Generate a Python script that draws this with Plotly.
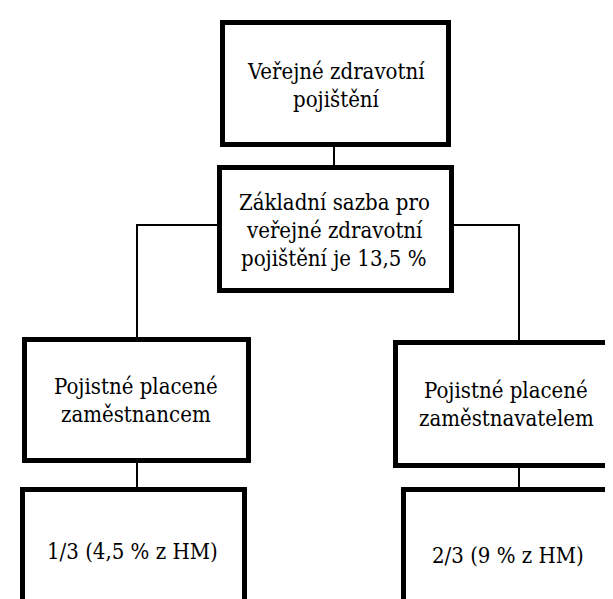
import plotly.graph_objects as go

# ---- content ----
labels = [
    "Veřejné zdravotní\npojištění",
    "Základní sazba pro\nveřejné zdravotní\npojištění je 13,5 %",
    "Pojistné placené\nzaměstnancem",
    "Pojistné placené\nzaměstnavatelem",
    "1/3 (4,5 % z HM)",
    "2/3 (9 % z HM)",
]
parents = [None, 0, 1, 1, 2, 3]

# ---- layout (pixels, outer edges of box borders) ----
W, H = 613, 599
box_x0 = [212, 209, 14, 385, 12, 393]
box_x1 = [443, 446, 243, 613, 239, 640]
box_y0 = [12, 157, 329, 332, 479, 479]
box_y1 = [139, 285, 455, 460, 640, 640]
text_x = [328, 326, 128, 498, 124, 500]
text_y = [77, 222, 392, 396, 543, 547]
link_x = [None, 326, 129, 511, 129, 511]   # x of vertical connector into each child
branch_y = 217                             # y of horizontal branch from box 2
line_step = 28
font_size = 22
border_w = 5
link_w = 2
font_family = "DejaVu Serif Condensed, DejaVu Serif"

shapes = []
half = border_w / 2
for i in range(len(labels)):
    shapes.append(dict(type="rect", xref="x", yref="y",
                       x0=box_x0[i] + half, x1=box_x1[i] - half,
                       y0=box_y0[i] + half, y1=box_y1[i] - half,
                       line=dict(color="black", width=border_w),
                       fillcolor="white", layer="below"))

for c, p in enumerate(parents):
    if p is None:
        continue
    cx = link_x[c]
    if box_x0[p] <= cx <= box_x1[p]:
        shapes.append(dict(type="line", xref="x", yref="y", x0=cx, x1=cx,
                           y0=box_y1[p], y1=box_y0[c],
                           line=dict(color="black", width=link_w)))
    else:
        side = box_x0[p] if cx < box_x0[p] else box_x1[p]
        shapes.append(dict(type="line", xref="x", yref="y", x0=side, x1=cx,
                           y0=branch_y, y1=branch_y,
                           line=dict(color="black", width=link_w)))
        shapes.append(dict(type="line", xref="x", yref="y", x0=cx, x1=cx,
                           y0=branch_y - link_w / 2, y1=box_y0[c],
                           line=dict(color="black", width=link_w)))

annotations = []
for i, lab in enumerate(labels):
    lines = lab.split("\n")
    n = len(lines)
    for k, ln in enumerate(lines):
        annotations.append(dict(
            x=text_x[i], y=text_y[i] + (k - (n - 1) / 2) * line_step,
            xref="x", yref="y", text=ln, showarrow=False,
            xanchor="center", yanchor="middle",
            font=dict(family=font_family, size=font_size, color="black")))

fig = go.Figure()
fig.update_layout(
    width=W, height=H, margin=dict(l=0, r=0, t=0, b=0),
    paper_bgcolor="white", plot_bgcolor="white",
    font=dict(family=font_family),
    shapes=shapes, annotations=annotations,
    xaxis=dict(range=[0, W], visible=False, fixedrange=True),
    yaxis=dict(range=[H, 0], visible=False, fixedrange=True),
)
fig.write_html("out.html")
